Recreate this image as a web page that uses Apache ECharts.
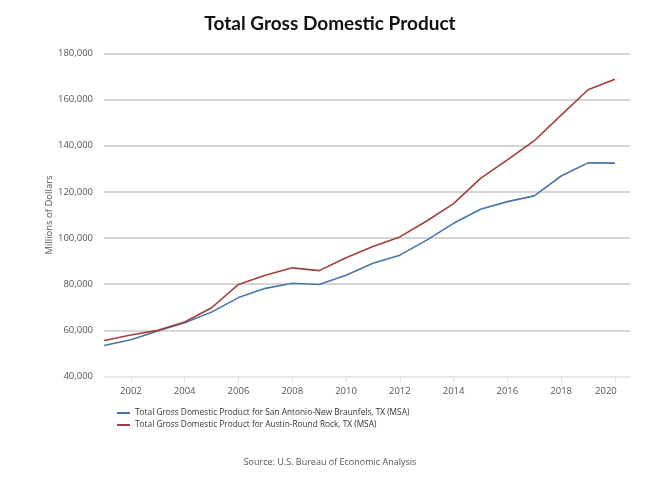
<!DOCTYPE html>
<html>
<head>
<meta charset="utf-8">
<script src="https://cdn.jsdelivr.net/npm/echarts@6/dist/echarts.min.js"></script>
<style>
html,body{margin:0;padding:0;background:#fff;}
#c{width:660px;height:479px;}
</style>
</head>
<body>
<div id="c"></div>
<script>
var years = [2001,2002,2003,2004,2005,2006,2007,2008,2009,2010,2011,2012,2013,2014,2015,2016,2017,2018,2019,2020];
var sanAntonio = [53400,55900,59700,63300,67900,74200,78200,80400,79900,83900,89100,92600,99100,106400,112500,115800,118300,126900,132600,132500];
var austin = [55600,58000,60000,63600,69800,79900,83900,87100,85900,91500,96300,100500,107400,114900,125900,133900,142200,153300,164300,168800];
var xTicks = [2002,2004,2006,2008,2010,2012,2014,2016,2018,2020];
var seriesNames = [
  'Total Gross Domestic Product for San Antonio-New Braunfels, TX (MSA)',
  'Total Gross Domestic Product for Austin-Round Rock, TX (MSA)'
];
var titleText = 'Total Gross Domestic Product';
var yAxisName = 'Millions of Dollars';
var sourceText = 'Source: U.S. Bureau of Economic Analysis';

function pairs(vals){ return years.map(function(y,i){ return [y, vals[i]]; }); }

var chart = echarts.init(document.getElementById('c'), null, {renderer:'canvas'});
chart.setOption({
  animation: false,
  backgroundColor: '#fff',
  title: [{
    text: titleText,
    left: 'center',
    top: 9,
    textStyle: {fontFamily: 'Lato', fontWeight: 'bold', fontSize: 19, color: '#111'}
  },{
    text: sourceText,
    left: 'center',
    top: 453,
    textStyle: {fontFamily: 'Open Sans', fontWeight: 'normal', fontSize: 9, color: '#555'}
  }],
  legend: {
    orient: 'vertical',
    left: 112,
    top: 404,
    itemGap: 4,
    itemWidth: 13,
    itemHeight: 2,
    icon: 'rect',
    textStyle: {fontFamily: 'Open Sans', fontSize: 8.3, color: '#333'},
    data: seriesNames
  },
  grid: {left: 104, right: 30, top: 53.5, height: 323, containLabel: false},
  xAxis: {
    type: 'value',
    min: 2001,
    max: 2020.56,
    axisLine: {show: false},
    splitLine: {show: false},
    axisTick: {show: true, customValues: xTicks, length: 6, lineStyle: {color: '#e0e0e0'}},
    axisLabel: {
      customValues: xTicks,
      margin: 10,
      fontFamily: 'Open Sans',
      fontSize: 9.5,
      color: '#555',
      formatter: function(v){ return v === 2020 ? '{r|' + v + '}' : String(v); },
      rich: {r: {fontFamily: 'Open Sans', fontSize: 9.5, color: '#555', padding: [0,18,0,0]}}
    }
  },
  yAxis: {
    type: 'value',
    min: 40000,
    max: 180000,
    interval: 20000,
    name: yAxisName,
    nameLocation: 'middle',
    nameGap: 50,
    nameMoveOverlap: false,
    nameTextStyle: {fontFamily: 'Open Sans', fontSize: 9.5, color: '#555'},
    axisLine: {show: false},
    axisTick: {show: false},
    axisLabel: {fontFamily: 'Open Sans', fontSize: 9.5, color: '#555', margin: 11},
    splitLine: {show: true, lineStyle: {color: ['#e2e2e2','#c8c8c8','#c8c8c8','#c8c8c8','#c8c8c8','#c8c8c8','#c8c8c8','#c8c8c8'], width: 1.5}}
  },
  series: [{
    name: seriesNames[0],
    type: 'line',
    data: pairs(sanAntonio),
    symbol: 'none',
    lineStyle: {color: '#4a76a6', width: 1.6},
    itemStyle: {color: '#4a76a6'}
  },{
    name: seriesNames[1],
    type: 'line',
    data: pairs(austin),
    symbol: 'none',
    lineStyle: {color: '#a33f3c', width: 1.6},
    itemStyle: {color: '#a33f3c'}
  }]
});
</script>
</body>
</html>
